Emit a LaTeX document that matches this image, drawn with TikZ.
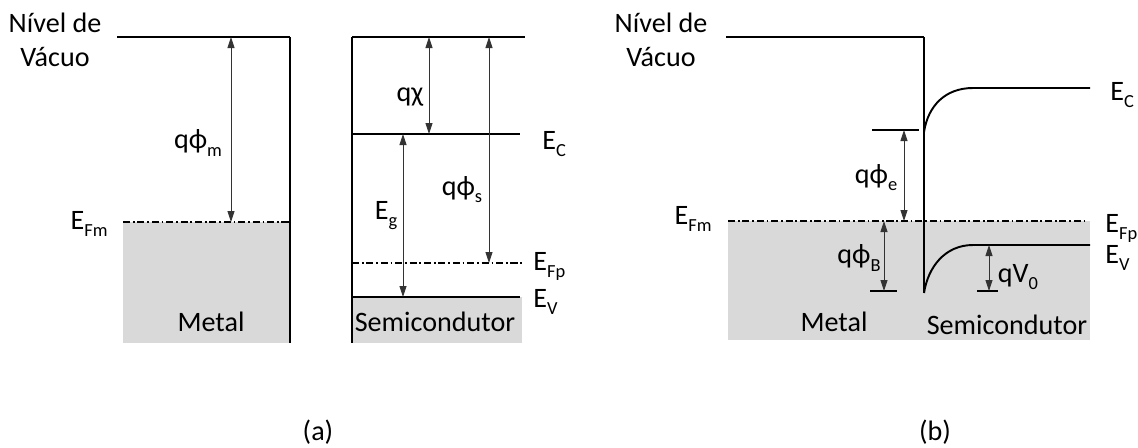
\documentclass[tikz,border=0pt]{standalone}
\usepackage{fontspec}
\setmainfont{Carlito}
\usetikzlibrary{arrows.meta}
\newcommand{\idx}[1]{\raisebox{-4pt}{\fontsize{10.5}{12}\selectfont #1}}

\begin{document}
\begin{tikzpicture}[
  x=0.02cm, y=-0.02cm,
  wall/.style={line width=1.3pt},
  vac/.style={line width=0.8pt},
  band/.style={line width=1.1pt},
  fermi/.style={line width=0.9pt, dash pattern=on 4pt off 1.6pt on 1pt off 1.6pt},
  gap/.style={{Triangle[length=2.2mm,width=1.4mm]}-{Triangle[length=2.2mm,width=1.4mm]}, line width=0.5pt, black!80},
  tick/.style={line width=0.8pt},
  filled/.style={fill=black!15, draw=none},
  lbl/.style={inner sep=0pt, font=\fontsize{16}{19.5}\selectfont}
]
\useasboundingbox (0,0) rectangle (1138,447);

% (a) Metal
\coordinate (mvac) at (117,37);
\coordinate (mtop) at (290,37);
\coordinate (mbot) at (290,343);
\coordinate (efmL) at (123,222);
\coordinate (efmR) at (290,222);
\fill[filled] (efmL) rectangle (mbot);
\draw[vac] (mvac) -- (mtop);
\draw[wall] (mtop) -- (mbot);
\draw[fermi] (efmL) -- (efmR);
\coordinate (phimT) at (231,37);
\coordinate (phimB) at (231,222);
\draw[gap] (phimT) -- (phimB);

% (a) Semiconductor
\coordinate (stop) at (352,37);
\coordinate (svacR) at (525,37);
\coordinate (sbot) at (352,343);
\coordinate (ecL) at (352,134);
\coordinate (ecR) at (520,134);
\coordinate (efpL) at (352,263);
\coordinate (efpR) at (522,263);
\coordinate (evL) at (352,297);
\coordinate (evR) at (520,297);
\fill[filled] (evL) rectangle (522,343);
\draw[vac] (stop) -- (svacR);
\draw[wall] (stop) -- (sbot);
\draw[band] (ecL) -- (ecR);
\draw[band] (evL) -- (evR);
\draw[fermi] (efpL) -- (efpR);
\coordinate (chiT) at (429,37);
\coordinate (chiB) at (429,134);
\coordinate (phisT) at (489,37);
\coordinate (phisB) at (489,263);
\coordinate (egT) at (403,134);
\coordinate (egB) at (403,297);
\draw[gap] (chiT) -- (chiB);
\draw[gap] (phisT) -- (phisB);
\draw[gap] (egT) -- (egB);

% (b) Contact
\coordinate (bvac) at (726,37);
\coordinate (btop) at (924,37);
\coordinate (bbot) at (924,293);
\coordinate (befL) at (728,221);
\coordinate (befR) at (1088,221);
\fill[filled] (befL) rectangle (1090,340);
\draw[vac] (bvac) -- (btop);
\draw[wall] (btop) -- (bbot);
\draw[fermi] (befL) -- (befR);
\coordinate (becS) at (924,132);
\coordinate (becE) at (1090,88);
\coordinate (bevE) at (1090,245);
\draw[band] (becS) .. controls (928,106) and (945,88) .. (973,88) -- (becE);
\draw[band] (bbot) .. controls (928,267) and (945,245) .. (973,245) -- (bevE);
% barriers
\coordinate (pheT) at (904,130);
\coordinate (pheB) at (904,221);
\coordinate (pheL) at (872,130);
\coordinate (pheR) at (919,130);
\draw[tick] (pheL) -- (pheR);
\draw[gap] (pheT) -- (pheB);
\coordinate (phbT) at (884,221);
\coordinate (phbB) at (884,291);
\coordinate (phbL) at (870,291);
\coordinate (phbR) at (897,291);
\draw[tick] (phbL) -- (phbR);
\draw[gap] (phbT) -- (phbB);
\coordinate (vT) at (989,245);
\coordinate (vB) at (989,291);
\coordinate (vL) at (977,291);
\coordinate (vR) at (998,291);
\draw[tick] (vL) -- (vR);
\draw[gap] (vT) -- (vB);

% Labels (a)
\node[lbl, align=center, anchor=south] (vaca) at (55,67) {Nível de\\Vácuo};
\node[lbl, anchor=base east] (efma) at (108,229) {E\idx{Fm}};
\node[lbl] (phim) at (198,143) {qϕ\idx{m}};
\node[lbl] (metala) at (211,322) {Metal};
\node[lbl] (chi) at (410,97) {qχ};
\node[lbl] (phis) at (462,190) {qϕ\idx{s}};
\node[lbl] (eg) at (386,216) {E\idx{g}};
\node[lbl] (semia) at (435,322) {Semicondutor};
\node[lbl, anchor=base west] (eca) at (542,149) {E\idx{C}};
\node[lbl, anchor=base west] (efpa) at (533,270) {E\idx{Fp}};
\node[lbl, anchor=base west] (eva) at (533,307) {E\idx{V}};
\node[lbl] (capa) at (318,432) {(a)};

% Labels (b)
\node[lbl, align=center, anchor=south] (vacb) at (661,67) {Nível de\\Vácuo};
\node[lbl, anchor=base east] (efmb) at (712,224) {E\idx{Fm}};
\node[lbl] (phie) at (876,178) {qϕ\idx{e}};
\node[lbl] (phib) at (859,258) {qϕ\idx{B}};
\node[lbl] (qv) at (1018,277) {qV\idx{0}};
\node[lbl] (metalb) at (834,322) {Metal};
\node[lbl] (semib) at (1007,325) {Semicondutor};
\node[lbl, anchor=base west] (ecb) at (1110,100) {E\idx{C}};
\node[lbl, anchor=base west] (efpb) at (1105,232) {E\idx{Fp}};
\node[lbl, anchor=base west] (evb) at (1105,263) {E\idx{V}};
\node[lbl] (capb) at (935,432) {(b)};

\end{tikzpicture}
\end{document}
